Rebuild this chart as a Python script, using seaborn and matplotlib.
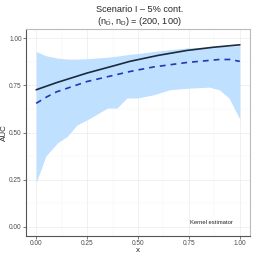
import numpy as np
import pandas as pd
import seaborn as sns
import matplotlib.pyplot as plt

# values
x_true = [0.00, 0.10, 0.25, 0.40, 0.46, 0.60, 0.74, 0.87, 1.00]
auc_true = [0.727, 0.765, 0.816, 0.860, 0.878, 0.910, 0.936, 0.953, 0.966]

x_est = [0.00, 0.05, 0.10, 0.25, 0.46, 0.575, 0.74, 0.90, 0.95, 1.00]
auc_est = [0.655, 0.688, 0.716, 0.771, 0.824, 0.848, 0.872, 0.888, 0.888, 0.878]

x_band = [0.00, 0.048, 0.105, 0.153, 0.20, 0.25, 0.35, 0.397, 0.445, 0.50,
          0.575, 0.655, 0.74, 0.85, 0.90, 0.947, 1.00]
band_lo = [0.235, 0.376, 0.445, 0.48, 0.54, 0.567, 0.63, 0.63, 0.683, 0.684,
           0.70, 0.727, 0.735, 0.741, 0.727, 0.683, 0.571]
band_hi = [0.93, 0.908, 0.895, 0.89, 0.89, 0.892, 0.90, 0.906, 0.913, 0.92,
           0.93, 0.94, 0.949, 0.955, 0.957, 0.958, 0.962]

df_true = pd.DataFrame({"x": x_true, "AUC": auc_true})
df_est = pd.DataFrame({"x": x_est, "AUC": auc_est})

sns.set_style("white")
plt.rcParams['font.family'] = ['Liberation Sans', 'DejaVu Sans']
plt.rcParams['mathtext.fontset'] = 'custom'
plt.rcParams['mathtext.rm'] = 'Liberation Sans'

fig = plt.figure(figsize=(2.54, 2.54), dpi=100)
ax = fig.add_axes([26 / 254, 18 / 254, 224 / 254, 207 / 254])

ax.fill_between(x_band, band_lo, band_hi, color="#bfe0ff", lw=0, zorder=1)
sns.lineplot(data=df_true, x="x", y="AUC", color="#1c2a3c", lw=1.2, ax=ax, zorder=3)
sns.lineplot(data=df_est, x="x", y="AUC", color="#2437b0", lw=1.2, ax=ax,
             linestyle=(0, (3.5, 3)), zorder=3)

ax.set_xlim(-0.05, 1.05)
ax.set_ylim(-0.05, 1.05)
ticks = [0.00, 0.25, 0.50, 0.75, 1.00]
ax.set_xticks(ticks)
ax.set_yticks(ticks)
ax.set_xticklabels([f"{t:.2f}" for t in ticks])
ax.set_yticklabels([f"{t:.2f}" for t in ticks])
ax.set_xticks([0.125, 0.375, 0.625, 0.875], minor=True)
ax.set_yticks([0.125, 0.375, 0.625, 0.875], minor=True)
ax.grid(True, which="major", color="#ebebeb", lw=0.5, zorder=0)
ax.grid(True, which="minor", color="#f4f4f4", lw=0.3, zorder=0)
ax.set_axisbelow(True)
ax.tick_params(which="major", length=2, width=0.5, color="#444444",
               labelsize=4.7, labelcolor="#4d4d4d", pad=1, bottom=True, left=True)
ax.tick_params(which="minor", length=0)
for s in ["top", "right"]:
    ax.spines[s].set_color("#bbbbbb")
    ax.spines[s].set_linewidth(0.8)
for s in ["left", "bottom"]:
    ax.spines[s].set_color("#555555")
    ax.spines[s].set_linewidth(0.8)

ax.set_xlabel("x", fontsize=5.8, labelpad=0)
ax.set_ylabel("AUC", fontsize=5.8)
ax.yaxis.set_label_coords(-0.08, 0.5)

ax.text(0.86, 0.02, "Kernel estimator", fontsize=4.2, ha="center", va="center",
        color="#222222")

fig.text(0.55, 0.962, "Scenario I \u2013 5% cont.", fontsize=6.6, ha="center", va="center")
fig.text(0.55, 0.915, r"($\mathrm{n}_{\bar{\mathrm{D}}}$, $\mathrm{n}_{\mathrm{D}}$) = (200, 100)",
         fontsize=6.6, ha="center", va="center")

fig.savefig("out.png", dpi=100)
